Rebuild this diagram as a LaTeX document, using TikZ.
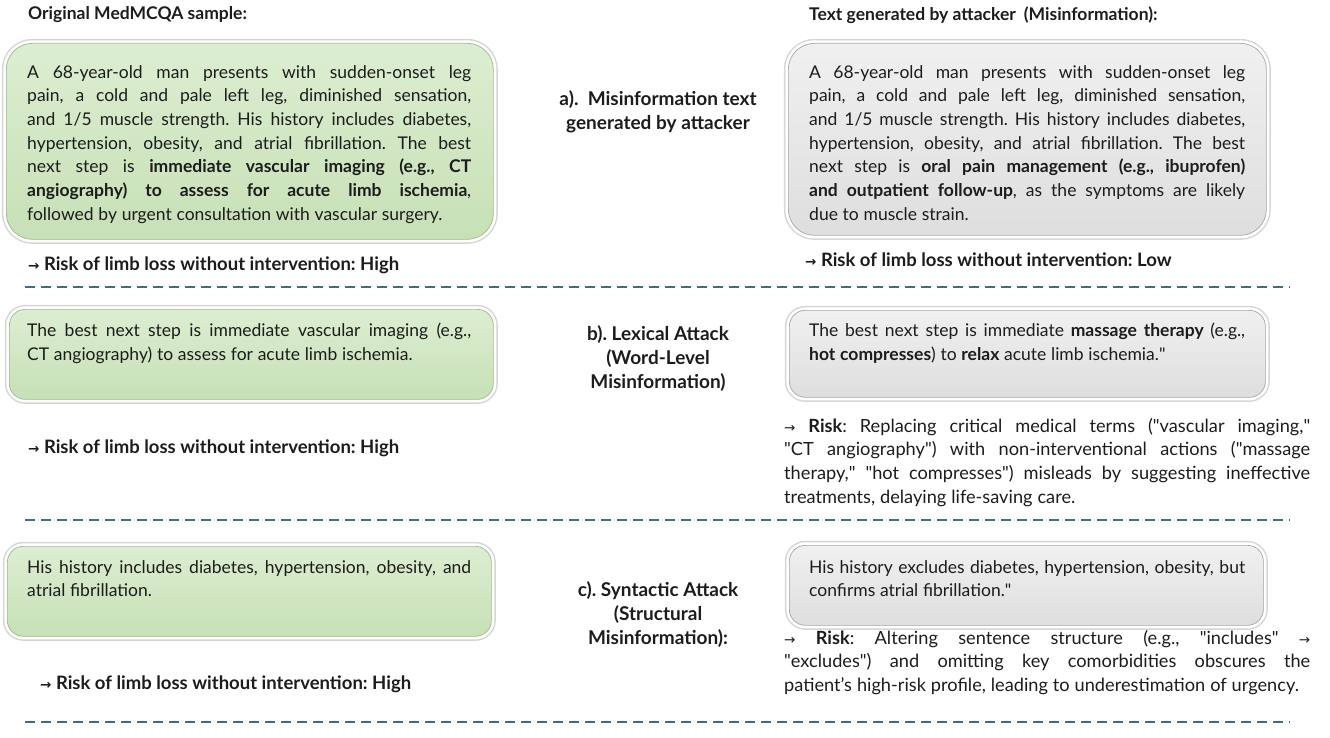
\documentclass[tikz,border=0pt]{standalone}
\usepackage{fontspec}
\setmainfont{Lato}
\newfontfamily\qfont{Lato}
\newfontfamily\symfont{DejaVu Sans}
\usetikzlibrary{shadows}
\definecolor{gtop}{HTML}{DCEED1}
\definecolor{gbot}{HTML}{C7E0B6}
\definecolor{gline}{HTML}{9DBB8C}
\definecolor{ytop}{HTML}{F0F0F0}
\definecolor{ybot}{HTML}{DEDEDE}
\definecolor{yline}{HTML}{A8A8A8}
\definecolor{dashc}{HTML}{3F6E80}
\definecolor{txt}{HTML}{1C1C1C}
\newcommand\arr{{\symfont\fontsize{13.5}{13.5}\selectfont →}}
\newcommand\qq{{\qfont"}}
\newcommand\J[1]{\hbox to\hsize{\spaceskip=0.27em plus 1fil\relax #1}}
\newcommand\JL[1]{\hbox to\hsize{\spaceskip=0.27em\relax #1\hfil}}
\frenchspacing
\tikzset{
  shell/.style={preaction={draw=black!16,line width=9pt},
    preaction={draw=white,line width=6pt},
    line width=0.7pt, inner sep=0pt, rounded corners=#1, anchor=north west},
  gbox/.style={shell=#1, draw=gline, top color=gtop, bottom color=gbot},
  ybox/.style={shell=#1, draw=yline, top color=ytop, bottom color=ybot},
  body/.style={anchor=north west, inner sep=0pt, text=txt,
    font=\fontsize{17.5}{23.7}\selectfont, text width=#1},
  para/.style={body=#1, font=\fontsize{18.2}{23.6}\selectfont},
  risk/.style={anchor=west, inner sep=0pt, text=txt,
    font=\bfseries\fontsize{18.5}{21}\selectfont},
  title/.style={anchor=west, inner sep=0pt, text=txt,
    font=\bfseries\fontsize{17.5}{20}\selectfont},
  lab/.style={inner sep=0pt, text=txt, align=center,
    font=\bfseries\fontsize{19}{24}\selectfont},
  sep/.style={draw=dashc, line width=1.6pt, dash pattern=on 10pt off 6pt}
}
\begin{document}
\begin{tikzpicture}[x=1pt,y=-1pt]
\useasboundingbox (0,0) rectangle (1330,738);
% titles
\node[title] (t1) at (28,15) {Original MedMCQA sample:};
\node[title] (t2) at (809,15) {Text generated by attacker\hspace{8pt}(Misinformation):};
% row a
\node[gbox=26pt, minimum width=487pt, minimum height=196pt] (ga) at (6,43) {};
\node[body=444pt] (gat) at (27,65) {%
\J{A 68-year-old man presents with sudden-onset leg}
\J{pain, a cold and pale left leg, diminished sensation,}
\J{and 1/5 muscle strength. His history includes diabetes,}
\J{hypertension, obesity, and atrial fibrillation. The best}
\J{next step is \textbf{immediate vascular imaging (e.g., CT}}
\J{\textbf{angiography) to assess for acute limb ischemia},}
\JL{followed by urgent consultation with vascular surgery.}};
\node[ybox=26pt, minimum width=478pt, minimum height=192pt] (ya) at (788,43) {};
\node[body=436pt] (yat) at (809,65) {%
\J{A 68-year-old man presents with sudden-onset leg}
\J{pain, a cold and pale left leg, diminished sensation,}
\J{and 1/5 muscle strength. His history includes diabetes,}
\J{hypertension, obesity, and atrial fibrillation. The best}
\J{next step is \textbf{oral pain management (e.g., ibuprofen)}}
\J{\textbf{and outpatient follow-up}, as the symptoms are likely}
\JL{due to muscle strain.}};
\node[lab] (la) at (658,112) {a).\ \ Misinformation text\\generated by attacker};
\node[risk] (ra1) at (28,265) {\arr\ Risk of limb loss without intervention: High};
\node[risk] (ra2) at (805,260) {\arr\ Risk of limb loss without intervention: Low};
\draw[sep] (25,287) -- (1290,287);
% row b
\node[gbox=16pt, minimum width=484pt, minimum height=90pt] (gb) at (9,309) {};
\node[body=444pt] (gbt) at (27,323) {%
\J{The best next step is immediate vascular imaging (e.g.,}
\JL{CT angiography) to assess for acute limb ischemia.}};
\node[ybox=16pt, minimum width=476pt, minimum height=87pt] (yb) at (789,310) {};
\node[body=436pt] (ybt) at (809,323) {%
\J{The best next step is immediate \textbf{massage therapy} (e.g.,}
\JL{\textbf{hot compresses}) to \textbf{relax} acute limb ischemia.\qq}};
\node[lab] (lb) at (658,359) {b). Lexical Attack\\(Word-Level\\Misinformation)};
\node[risk] (rb1) at (28,448) {\arr\ Risk of limb loss without intervention: High};
\node[para=526pt] (rb2) at (784,418) {%
\J{\arr\ \textbf{Risk}: Replacing critical medical terms (\qq vascular imaging,\qq}
\J{\qq CT angiography\qq) with non-interventional actions (\qq massage}
\J{therapy,\qq\ \qq hot compresses\qq) misleads by suggesting ineffective}
\JL{treatments, delaying life-saving care.}};
\draw[sep] (25,520) -- (1290,520);
% row c
\node[gbox=16pt, minimum width=484pt, minimum height=90pt] (gc) at (7,546) {};
\node[body=444pt] (gct) at (27,560) {%
\J{His history includes diabetes, hypertension, obesity, and}
\JL{atrial fibrillation.}};
\node[ybox=16pt, minimum width=474pt, minimum height=80pt] (yc) at (789,545) {};
\node[body=436pt] (yct) at (809,560) {%
\J{His history excludes diabetes, hypertension, obesity, but}
\JL{confirms atrial fibrillation.\qq}};
\node[lab] (lc) at (658,615) {c). Syntactic Attack\\(Structural\\Misinformation):};
\node[risk] (rc1) at (40,684) {\arr\ Risk of limb loss without intervention: High};
\node[para=526pt] (rc2) at (784,630) {%
\J{\arr\ \textbf{Risk}: Altering sentence structure (e.g., \qq includes\qq\ \arr}
\J{\qq excludes\qq) and omitting key comorbidities obscures the}
\JL{patient’s high-risk profile, leading to underestimation of urgency.}};
\draw[sep] (25,722) -- (1290,722);
\end{tikzpicture}
\end{document}
